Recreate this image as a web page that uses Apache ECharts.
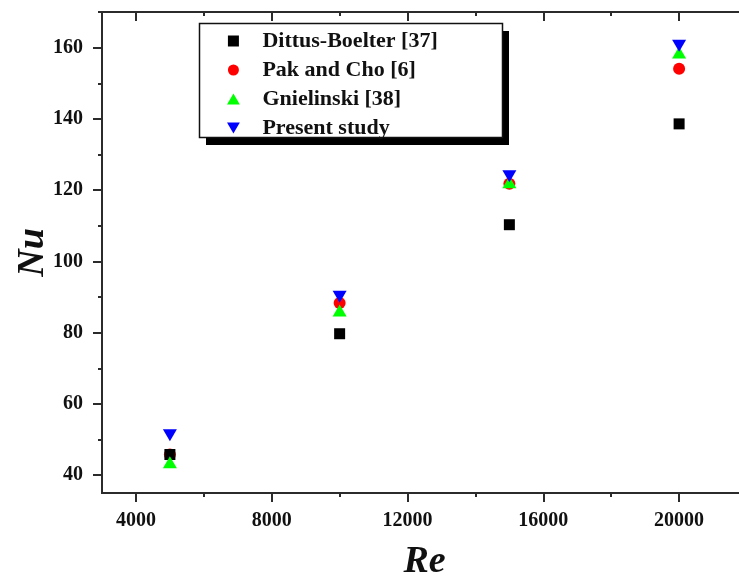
<!DOCTYPE html>
<html lang="en">
<head>
    <meta charset="utf-8">
    <title>Nu vs Re</title>
    <script src="https://cdn.jsdelivr.net/npm/echarts@6/dist/echarts.min.js"></script>
</head>
<body style="margin:0;background:#fff;">
    <div id="main" style="width:739px;height:576px;"></div>

    <script>
    // data
    var re = [5000, 10000, 15000, 20000];
    var dittus = [45.8, 79.7, 110.3, 138.6];
    var pakCho = [45.8, 88.3, 121.8, 154.1];
    var gnielinski = [43.6, 86.2, 122.2, 158.6];
    var present = [51.2, 90.1, 123.9, 160.5];

    var xMajor = [4000, 8000, 12000, 16000, 20000];
    var xMinor = [6000, 10000, 14000, 18000];
    var yMajor = [40, 60, 80, 100, 120, 140, 160];
    var yMinor = [50, 70, 90, 110, 130, 150, 170];

    var names = ['Dittus-Boelter [37]', 'Pak and Cho [6]', 'Gnielinski [38]', 'Present study'];

    function pairs(ys) {
        return re.map(function (x, i) { return [x, ys[i]]; });
    }

    var serif = "'Liberation Serif', 'DejaVu Serif', serif";
    var axisCol = '#2b2b2b';
    // path symbols keep their aspect in the legend
    var square = 'path://M0,0 L10,0 L10,10 L0,10 Z';
    var upTri = 'path://M7,0 L14,12 L0,12 Z';
    var downTri = 'path://M0,0 L14,0 L7,12 Z';

    // frame axes: ticks only, labels on the main ones
    function xAx(pos, ticks, len, inside, labels) {
        return {
            type: 'value', position: pos, min: 3000, max: 22000,
            axisLine: {show: true, onZero: false, lineStyle: {color: axisCol, width: 2}},
            axisTick: {show: true, inside: inside, length: len, customValues: ticks,
                       lineStyle: {color: axisCol, width: 2}},
            axisLabel: labels ? {show: true, customValues: ticks, margin: 18,
                       formatter: function (v) { return String(v); },
                       fontFamily: serif, fontWeight: 'bold', fontSize: 20, color: '#111'} : {show: false},
            splitLine: {show: false}
        };
    }
    function yAx(pos, ticks, len, inside, labels) {
        return {
            type: 'value', position: pos, min: 35, max: 170,
            axisLine: {show: true, onZero: false, lineStyle: {color: axisCol, width: 2}},
            axisTick: {show: true, inside: inside, length: len, customValues: ticks,
                       lineStyle: {color: axisCol, width: 2}},
            axisLabel: labels ? {show: true, customValues: ticks, margin: 19,
                       fontFamily: serif, fontWeight: 'bold', fontSize: 20, color: '#111'} : {show: false},
            splitLine: {show: false}
        };
    }

    var xAxes = [
        xAx('bottom', xMajor, 9, false, true),
        xAx('bottom', xMinor, 4, false, false),
        xAx('top', xMajor, 9, true, false),
        xAx('top', xMinor, 4, true, false)
    ];
    var yAxes = [
        yAx('left', yMajor, 9, false, true),
        yAx('left', yMinor, 4, false, false),
        yAx('right', yMajor, 8, true, false),
        yAx('right', yMinor, 4, true, false)
    ];
    var titleFont = {fontFamily: serif, fontWeight: 'bold', fontStyle: 'italic', fontSize: 38, color: '#111'};
    xAxes[0].name = 'Re';
    xAxes[0].nameLocation = 'middle';
    xAxes[0].nameGap = 50;
    xAxes[0].nameTextStyle = titleFont;
    yAxes[0].name = 'Nu';
    yAxes[0].nameLocation = 'middle';
    yAxes[0].nameGap = 50;
    yAxes[0].nameMoveOverlap = false;
    yAxes[0].nameTextStyle = titleFont;

    var myChart = echarts.init(document.getElementById('main'));
    myChart.setOption({
        animation: false,
        backgroundColor: '#fff',
        grid: {left: 102, top: 12, width: 645, bottom: 83, containLabel: false, outerBoundsMode: 'none'},
        xAxis: xAxes,
        yAxis: yAxes,
        // legend frame with its solid drop shadow
        graphic: [
            {type: 'rect', z: 1, shape: {x: 206, y: 31, width: 303, height: 114},
             style: {fill: '#000'}},
            {type: 'rect', z: 2, shape: {x: 199.5, y: 23.5, width: 303, height: 114},
             style: {fill: '#fff', stroke: '#111', lineWidth: 1.5}}
        ],
        legend: {
            orient: 'vertical', left: 227, top: 30,
            padding: 0,
            itemWidth: 48, itemHeight: 11, itemGap: 7,
            textStyle: {fontFamily: serif, fontWeight: 'bold', fontSize: 22, lineHeight: 20, color: '#111'},
            data: names
        },
        series: [
            {name: names[0], type: 'scatter', symbol: square, symbolSize: 11, z: 3,
             itemStyle: {color: '#000', opacity: 1}, data: pairs(dittus)},
            {name: names[1], type: 'scatter', symbol: 'circle', symbolSize: 12, z: 2,
             itemStyle: {color: '#ff0000', opacity: 1}, data: pairs(pakCho)},
            {name: names[2], type: 'scatter', symbol: upTri, symbolSize: [14, 12], z: 4,
             itemStyle: {color: '#00ff00', opacity: 1}, data: pairs(gnielinski)},
            {name: names[3], type: 'scatter', symbol: downTri, symbolSize: [14, 12], z: 5,
             itemStyle: {color: '#0000ff', opacity: 1}, data: pairs(present)}
        ]
    });
    </script>
</body>
</html>
